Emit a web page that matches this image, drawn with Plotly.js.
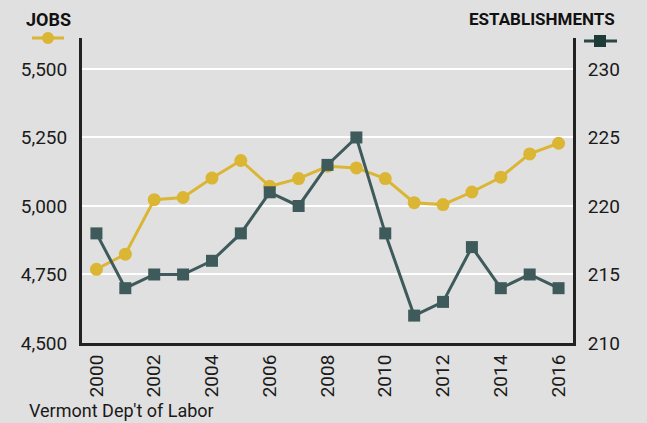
<!DOCTYPE html>
<html>
<head>
<meta charset="utf-8">
<script src="https://cdn.plot.ly/plotly-3.0.1.min.js"></script>
<style>html,body{margin:0;padding:0;background:#e0e0e0;}#chart{width:647px;height:423px;}</style>
</head>
<body>
<div id="chart"></div>
<script>
const years = [2000,2001,2002,2003,2004,2005,2006,2007,2008,2009,2010,2011,2012,2013,2014,2015,2016];
const jobs = [4769,4824,5023,5031,5102,5166,5072,5100,5145,5139,5100,5012,5005,5051,5105,5190,5229];
const establishments = [218,214,215,215,216,218,221,220,223,225,218,212,213,217,214,215,214];
const jobTicks = [4500,4750,5000,5250,5500];
const estTicks = [210,215,220,225,230];
const yearTicks = [2000,2002,2004,2006,2008,2010,2012,2014,2016];

const FONT = 'Roboto, "Liberation Sans", sans-serif';
const GOLD = '#dbb534';
const SLATE = '#3e5a5a';
const DARK = '#222222';

// plot area pixel geometry for legend decorations
const L = 82, R = 573, T = 38, B = 343;
const px = x => (x - L) / (R - L);
const py = y => (B - y) / (B - T);

const traces = [
  {x: years, y: establishments, yaxis: 'y2', type: 'scatter', mode: 'lines+markers',
   line: {color: SLATE, width: 3}, marker: {symbol: 'square', size: 12, color: SLATE},
   name: 'ESTABLISHMENTS', showlegend: false, hoverinfo: 'skip'},
  {x: years, y: jobs, yaxis: 'y', type: 'scatter', mode: 'lines+markers',
   line: {color: GOLD, width: 3}, marker: {symbol: 'circle', size: 13, color: GOLD},
   name: 'JOBS', showlegend: false, hoverinfo: 'skip'}
];

const tf = {family: FONT, size: 19, color: '#1a1a1a'};

const layout = {
  width: 647, height: 423,
  margin: {l: L, r: 647 - R, t: T, b: 423 - B},
  paper_bgcolor: '#e0e0e0', plot_bgcolor: '#e0e0e0',
  font: {family: FONT, size: 19, color: '#1a1a1a'},
  xaxis: {range: [1999.5, 2016.5], tickvals: yearTicks, ticktext: yearTicks.map(String),
          tickangle: -90, showgrid: false, zeroline: false, showline: true,
          linecolor: DARK, linewidth: 3, ticks: '', ticklabelstandoff: 1, tickfont: tf},
  yaxis: {range: [4500, 5613], tickvals: jobTicks, ticktext: ['4,500','4,750','5,000','5,250','5,500'],
          showgrid: true, gridcolor: '#ffffff', gridwidth: 2, zeroline: false,
          showline: true, linecolor: DARK, linewidth: 3, ticks: '', ticklabelstandoff: 8, tickfont: tf},
  yaxis2: {range: [210, 232.26], tickvals: estTicks, overlaying: 'y', side: 'right',
           showgrid: false, zeroline: false, showline: true, linecolor: DARK, linewidth: 3,
           ticks: '', ticklabelstandoff: 8, tickfont: tf},
  showlegend: false,
  annotations: [
    {text: '<b>JOBS</b>', xref: 'paper', yref: 'paper', x: px(48), y: py(19), xanchor: 'center', yanchor: 'middle',
     showarrow: false, font: {family: FONT, size: 18, color: '#111'}},
    {text: '<b>ESTABLISHMENTS</b>', xref: 'paper', yref: 'paper', x: px(617), y: py(19), xanchor: 'right', yanchor: 'middle',
     showarrow: false, font: {family: FONT, size: 17, color: '#111'}},
    {text: "Vermont Dep't of Labor", xref: 'paper', yref: 'paper', x: px(27), y: py(410), xanchor: 'left', yanchor: 'middle',
     showarrow: false, font: {family: FONT, size: 18, color: '#1a1a1a'}}
  ],
  shapes: [
    {type: 'line', xref: 'paper', yref: 'paper', x0: px(32), x1: px(64), y0: py(38), y1: py(38),
     line: {color: GOLD, width: 3}},
    {type: 'circle', xref: 'paper', yref: 'paper', x0: px(42), x1: px(54), y0: py(44), y1: py(32),
     fillcolor: GOLD, line: {color: GOLD, width: 0}},
    {type: 'line', xref: 'paper', yref: 'paper', x0: px(584), x1: px(617), y0: py(41), y1: py(41),
     line: {color: '#2a4644', width: 3}},
    {type: 'rect', xref: 'paper', yref: 'paper', x0: px(594), x1: px(606), y0: py(47), y1: py(35),
     fillcolor: '#1f3b38', line: {color: '#1f3b38', width: 0}}
  ]
};

Plotly.newPlot('chart', traces, layout, {staticPlot: true, displayModeBar: false});
</script>
</body>
</html>
